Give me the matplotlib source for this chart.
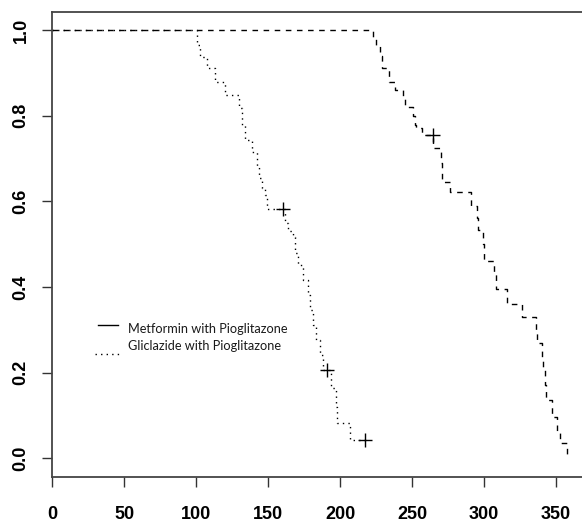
import matplotlib
matplotlib.use("Agg")
import matplotlib.pyplot as plt
from matplotlib.lines import Line2D

# Kaplan-Meier style step data
met_times = [0, 223, 225, 228, 229, 234, 238, 244, 245, 251, 252, 253, 257,
             264.5, 270, 271, 276, 291, 295, 296, 299, 300, 307, 308, 316,
             326, 336, 337, 340, 341, 342, 343, 347, 350.5, 353, 357.4]
met_surv = [1.0, 0.98, 0.965, 0.94, 0.911, 0.878, 0.86, 0.84, 0.82, 0.80,
            0.778, 0.77, 0.755, 0.724, 0.69, 0.645, 0.622, 0.59, 0.56, 0.533,
            0.50, 0.461, 0.43, 0.396, 0.361, 0.33, 0.30, 0.268, 0.235, 0.206,
            0.17, 0.136, 0.096, 0.058, 0.035, 0.0]
met_cens_t = [264.8]
met_cens_s = [0.755]

gli_times = [0, 101, 103, 107.5, 113, 120, 130, 132, 134, 139, 142, 144, 146,
             148, 149, 161.5, 164, 167, 169, 171, 174, 178, 179, 181, 183, 186,
             188, 193.5, 197, 198, 207, 217.4]
gli_surv = [1.0, 0.965, 0.938, 0.911, 0.878, 0.848, 0.817, 0.778, 0.743,
            0.715, 0.68, 0.654, 0.63, 0.615, 0.583, 0.55, 0.53, 0.516, 0.479,
            0.45, 0.416, 0.38, 0.346, 0.311, 0.276, 0.24, 0.206, 0.163, 0.12,
            0.081, 0.042, 0.042]
gli_cens_t = [160.2, 190.8, 217.4]
gli_cens_s = [0.583, 0.206, 0.042]

labels = ["Metformin with Pioglitazone", "Gliclazide with Pioglitazone"]
xticks = [0, 50, 100, 150, 200, 250, 300, 350]
yticks = [0.0, 0.2, 0.4, 0.6, 0.8, 1.0]

fig = plt.figure(figsize=(5.82, 5.23), dpi=100)
ax = fig.add_axes([52 / 582, 46 / 523, 530 / 582, 465 / 523])

ax.plot(met_times, met_surv, drawstyle="steps-post", color="black",
        lw=1.0, linestyle=(0, (4, 4)))
ax.plot(gli_times, gli_surv, drawstyle="steps-post", color="black",
        lw=1.0, linestyle=(0, (1, 3)))
ax.plot(met_cens_t, met_cens_s, "+", color="black", ms=10, mew=1.0)
ax.plot(gli_cens_t, gli_cens_s, "+", color="black", ms=10, mew=1.0)

ax.set_xlim(0, 368)
ax.set_ylim(-0.044, 1.042)
ax.set_xticks(xticks)
ax.set_yticks(yticks)
ax.set_xticklabels([str(v) for v in xticks])
ax.set_yticklabels(["%.1f" % v for v in yticks])

tick_font = dict(family="Liberation Sans", weight="bold", size=13)
for lab in ax.get_xticklabels() + ax.get_yticklabels():
    lab.set_fontproperties(matplotlib.font_manager.FontProperties(**tick_font))
ax.tick_params(axis="both", length=7.2, width=1.0, color="#333333")
ax.tick_params(axis="x", pad=14)
ax.tick_params(axis="y", pad=9, labelrotation=90)
for lab in ax.get_yticklabels():
    lab.set_va("center")

ax.spines["right"].set_visible(False)
for s in ["left", "bottom", "top"]:
    ax.spines[s].set_color("#444444")
    ax.spines[s].set_linewidth(1.3)

# hand-made legend like the original
ax.add_line(Line2D([0.0868, 0.1245], [0.327, 0.327], transform=ax.transAxes,
                   color="black", lw=1.0))
ax.add_line(Line2D([0.0811, 0.1321], [0.2645, 0.2645], transform=ax.transAxes,
                   color="black", lw=1.0, linestyle=(0, (1, 3))))
ax.text(0.1434, 0.318, labels[0], transform=ax.transAxes, va="center",
        ha="left", family="Lato", fontsize=9.2, color="#1a1a1a")
ax.text(0.1434, 0.2817, labels[1], transform=ax.transAxes, va="center",
        ha="left", family="Lato", fontsize=9.2, color="#1a1a1a")

fig.savefig("out.png", dpi=100)
